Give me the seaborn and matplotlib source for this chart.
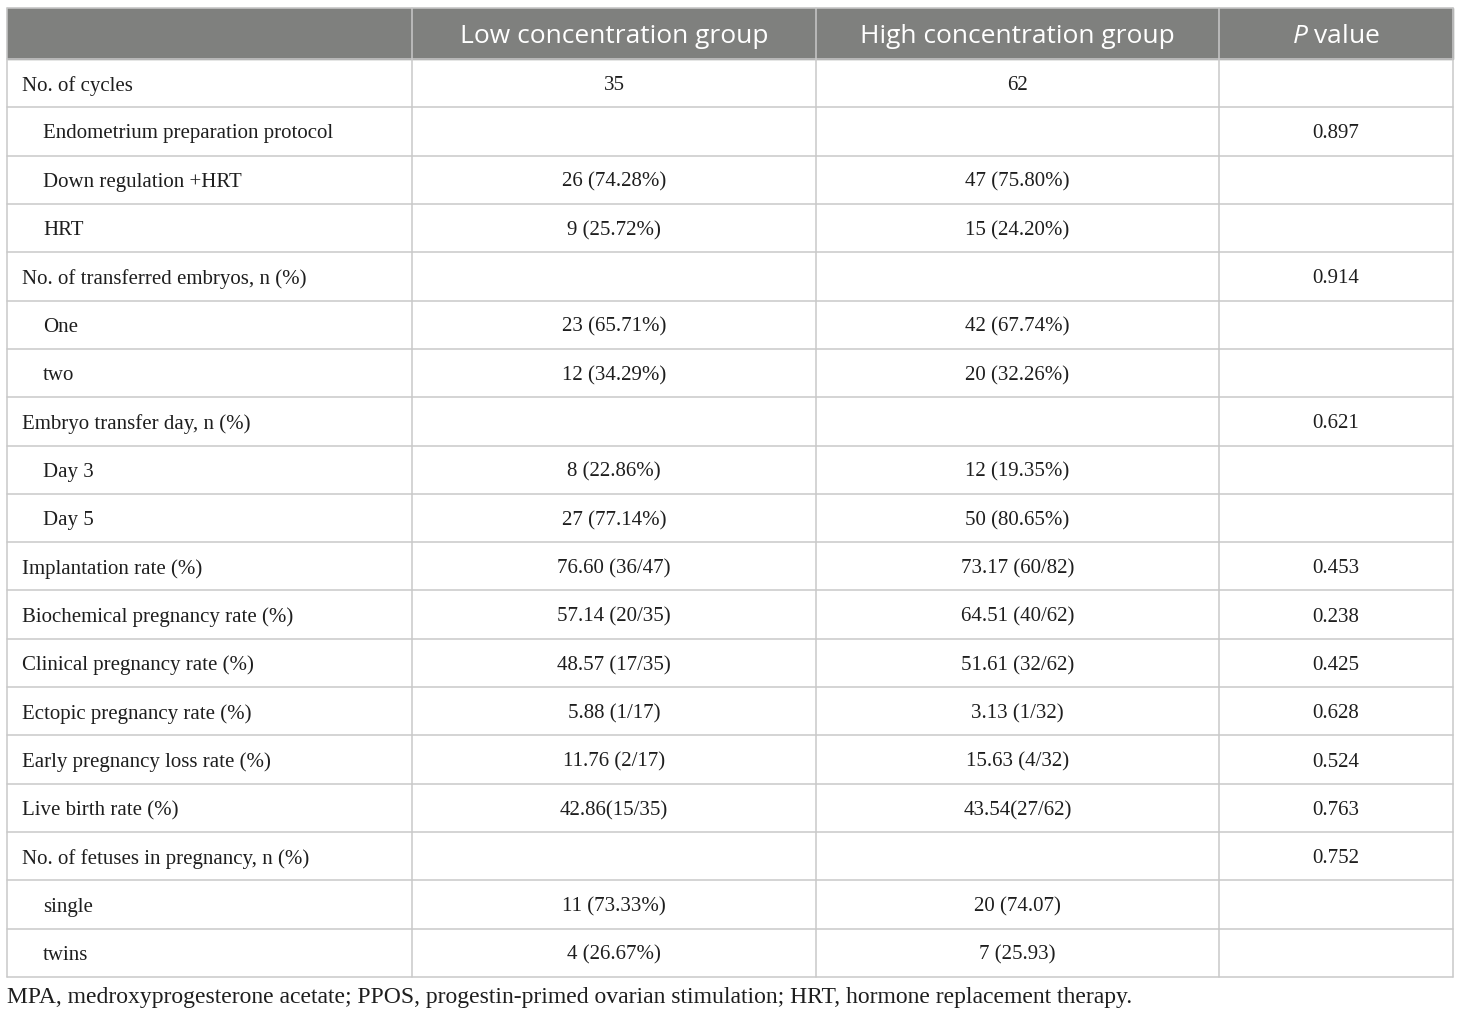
import matplotlib.pyplot as plt
import seaborn as sns

# Table content
header = ["", "Low concentration group", "High concentration group", r"$\it{P}$ value"]
labels = ["No. of cycles", "Endometrium preparation protocol", "Down regulation +HRT", "HRT",
          "No. of transferred embryos, n (%)", "One", "two",
          "Embryo transfer day, n (%)", "Day 3", "Day 5",
          "Implantation rate (%)", "Biochemical pregnancy rate (%)",
          "Clinical pregnancy rate (%)", "Ectopic pregnancy rate (%)",
          "Early pregnancy loss rate (%)", "Live birth rate (%)",
          "No. of fetuses in pregnancy, n (%)", "single", "twins"]
indent = [0, 1, 1, 1, 0, 1, 1, 0, 1, 1, 0, 0, 0, 0, 0, 0, 0, 1, 1]
low_group = ["35", "", "26 (74.28%)", "9 (25.72%)", "", "23 (65.71%)", "12 (34.29%)",
             "", "8 (22.86%)", "27 (77.14%)", "76.60 (36/47)", "57.14 (20/35)",
             "48.57 (17/35)", "5.88 (1/17)", "11.76 (2/17)", "42.86(15/35)",
             "", "11 (73.33%)", "4 (26.67%)"]
high_group = ["62", "", "47 (75.80%)", "15 (24.20%)", "", "42 (67.74%)", "20 (32.26%)",
              "", "12 (19.35%)", "50 (80.65%)", "73.17 (60/82)", "64.51 (40/62)",
              "51.61 (32/62)", "3.13 (1/32)", "15.63 (4/32)", "43.54(27/62)",
              "", "20 (74.07)", "7 (25.93)"]
p_values = ["", "0.897", "", "", "0.914", "", "", "0.621", "", "", "0.453", "0.238",
            "0.425", "0.628", "0.524", "0.763", "0.752", "", ""]
footnote = ("MPA, medroxyprogesterone acetate; PPOS, progestin-primed ovarian stimulation; "
            "HRT, hormone replacement therapy.")

sns.set_theme(style="white")
plt.rcParams["mathtext.fontset"] = "custom"
plt.rcParams["mathtext.it"] = "Open Sans:italic"
plt.rcParams["mathtext.rm"] = "Open Sans"

fig = plt.figure(figsize=(14.6, 10.14), dpi=100)
ax = fig.add_axes([0, 0, 1, 1])
ax.set_xlim(0, 1460)
ax.set_ylim(1014, 0)
ax.axis("off")

# layout in pixels
col_edges = [7, 412, 816, 1219, 1453]
top, head_bottom, bottom = 8, 59, 977
row_h = (bottom - head_bottom) / len(labels)
line_col = "#c9c9c9"
serif = "Liberation Serif"
txt_col = "#1e1e1e"

# header
ax.add_patch(plt.Rectangle((col_edges[0], top), col_edges[-1] - col_edges[0],
                           head_bottom - top, color="#7f807e", zorder=1))
for j in range(1, 4):
    cx = (col_edges[j] + col_edges[j + 1]) / 2
    ax.text(cx, (top + head_bottom) / 2 + 3, header[j], ha="center", va="center",
            color="white", fontsize=19, family="Open Sans", zorder=3)

# body
for i, lab in enumerate(labels):
    cy = head_bottom + row_h * (i + 0.5) + 2.5
    ax.text(col_edges[0] + 15 + 21 * indent[i], cy, lab, ha="left", va="center",
            fontsize=15, family=serif, color=txt_col)
    for j, vals in enumerate([low_group, high_group, p_values], start=1):
        cx = (col_edges[j] + col_edges[j + 1]) / 2
        ax.text(cx, cy, vals[i], ha="center", va="center",
                fontsize=15, family=serif, color=txt_col)

# grid lines
for i in range(len(labels) + 1):
    y = head_bottom + row_h * i
    ax.plot([col_edges[0], col_edges[-1]], [y, y], color=line_col, lw=1.1, zorder=2)
ax.plot([col_edges[0], col_edges[-1]], [top, top], color=line_col, lw=1.1, zorder=2)
for x in col_edges:
    ax.plot([x, x], [top, bottom], color=line_col, lw=1.1, zorder=2)

ax.text(col_edges[0], 998, footnote, ha="left", va="center",
        fontsize=17, family=serif, color=txt_col)

fig.savefig("out.png", dpi=100)
